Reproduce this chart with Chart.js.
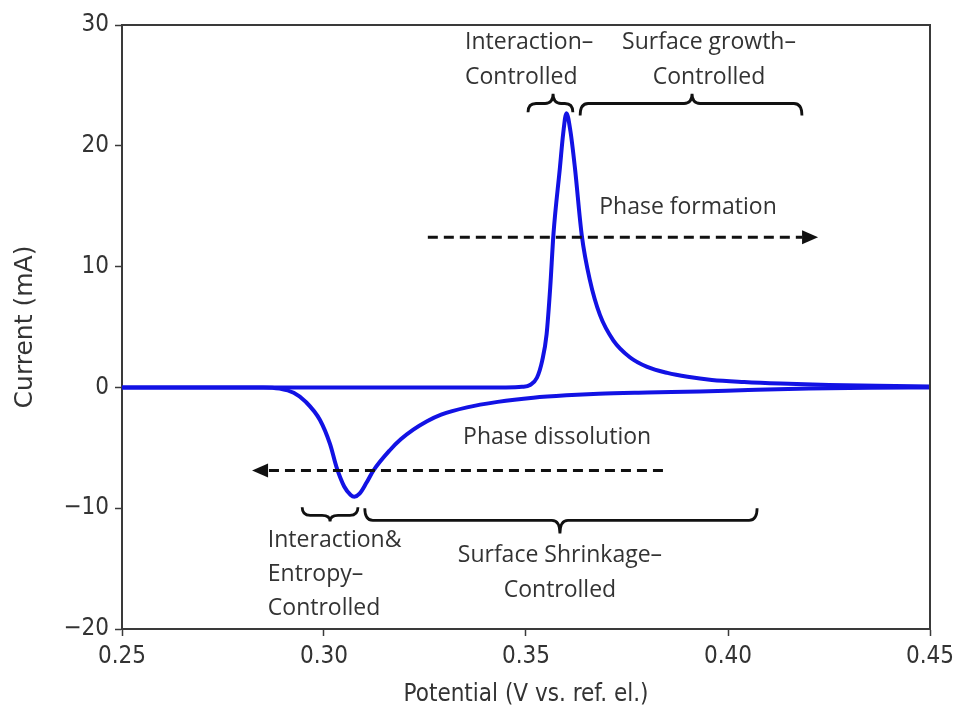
<!DOCTYPE html>
<html>
<head>
<meta charset="utf-8">
<script src="https://cdn.jsdelivr.net/npm/chart.js@4.4.0/dist/chart.umd.min.js"></script>
<style>
  html, body { margin: 0; padding: 0; background: #fff; }
  #wrap { width: 961px; height: 715px; position: relative; }
</style>
</head>
<body>
<div id="wrap"><canvas id="cv"></canvas></div>
<script>
// forward sweep (phase formation peak)
const fwdPotential = [0.25, 0.30, 0.345, 0.349, 0.351, 0.3527, 0.354, 0.3551, 0.356, 0.3568, 0.3584, 0.3592, 0.3600, 0.3610, 0.3621, 0.3638, 0.3658, 0.3683, 0.3716, 0.3757, 0.380, 0.385, 0.390, 0.396, 0.404, 0.413, 0.425, 0.437, 0.45];
const fwdCurrent   = [0, 0, 0, 0.05, 0.2, 0.8, 2.2, 4.4, 8.3, 12.7, 18.2, 21.0, 22.7, 21.2, 18.2, 12.6, 8.9, 6.0, 3.9, 2.5, 1.7, 1.2, 0.88, 0.62, 0.45, 0.32, 0.2, 0.13, 0.08];
// reverse sweep (phase dissolution peak)
const revPotential = [0.25, 0.285, 0.289, 0.2925, 0.2955, 0.2990, 0.3015, 0.3031, 0.3050, 0.3066, 0.3075, 0.3088, 0.3105, 0.3122, 0.3163, 0.319, 0.3221, 0.3255, 0.329, 0.3354, 0.343, 0.3518, 0.360, 0.368, 0.380, 0.393, 0.405, 0.42, 0.435, 0.45];
const revCurrent   = [0, 0, -0.1, -0.45, -1.2, -2.7, -4.7, -6.6, -8.2, -8.9, -9.05, -8.8, -7.9, -6.9, -5.2, -4.3, -3.5, -2.8, -2.25, -1.65, -1.2, -0.85, -0.65, -0.52, -0.42, -0.33, -0.22, -0.1, -0.03, 0];

const xTicks = [0.25, 0.30, 0.35, 0.40, 0.45];
const yTicks = [-20, -10, 0, 10, 20, 30];

const xTitle = 'Potential (V vs. ref. el.)';
const yTitle = 'Current (mA)';

// annotation texts, in data units
const notes = [
  { lines: ['Interaction\u2013', 'Controlled'], x: 0.3349, y: [28.56, 25.66], align: 'left' },
  { lines: ['Surface growth\u2013', 'Controlled'], x: 0.3953, y: [28.56, 25.66], align: 'center' },
  { lines: ['Phase formation'], x: 0.3901, y: [14.9], align: 'center' },
  { lines: ['Phase dissolution'], x: 0.3577, y: [-4.14], align: 'center' },
  { lines: ['Interaction&', 'Entropy\u2013', 'Controlled'], x: 0.2861, y: [-12.67, -15.48, -18.3], align: 'left' },
  { lines: ['Surface Shrinkage\u2013', 'Controlled'], x: 0.3584, y: [-13.9, -16.8], align: 'center' }
];
const arrows = [
  { from: 0.3257, to: 0.4223, y: 12.42 },
  { from: 0.3839, to: 0.2822, y: -6.87 }
];
const braces = [
  { x1: 0.3505, x2: 0.3616, tip: 0.3567, y0: 22.77, ym: 23.5, yt: 24.3 },
  { x1: 0.3634, x2: 0.4183, tip: 0.3911, y0: 22.5, ym: 23.5, yt: 24.3 },
  { x1: 0.2946, x2: 0.3084, tip: 0.3015, y0: -9.93, ym: -10.6, yt: -11.1 },
  { x1: 0.3101, x2: 0.4072, tip: 0.3584, y0: -10.0, ym: -11.0, yt: -12.1 }
];

const axisColor = '#3a3a3a';
const textColor = '#333';
const curveColor = 'rgb(18,18,228)';
const tickFont = { family: "'DejaVu Sans Condensed', 'DejaVu Sans'", size: 24 };

function drawBrace(ctx, x1, x2, xt, y0, ym, yt) {
  const r = 8;
  ctx.beginPath();
  ctx.moveTo(x1, y0);
  ctx.quadraticCurveTo(x1, ym, x1 + r, ym);
  ctx.lineTo(xt - r, ym);
  ctx.quadraticCurveTo(xt, ym, xt, yt);
  ctx.quadraticCurveTo(xt, ym, xt + r, ym);
  ctx.lineTo(x2 - r, ym);
  ctx.quadraticCurveTo(x2, ym, x2, y0);
  ctx.stroke();
}

function drawArrow(ctx, x1, x2, yy) {
  const dir = Math.sign(x2 - x1);
  const head = 16;
  ctx.setLineDash([10, 6]);
  ctx.beginPath();
  ctx.moveTo(x1, yy);
  ctx.lineTo(x2 - dir * head, yy);
  ctx.stroke();
  ctx.setLineDash([]);
  ctx.beginPath();
  ctx.moveTo(x2, yy);
  ctx.lineTo(x2 - dir * head, yy - 7);
  ctx.lineTo(x2 - dir * head, yy + 7);
  ctx.closePath();
  ctx.fill();
}

const annotate = {
  id: 'annotate',
  afterDatasetsDraw(chart) {
    const { ctx, chartArea: a, scales: { x, y } } = chart;
    ctx.save();
    // top and right spines
    ctx.strokeStyle = axisColor;
    ctx.lineWidth = 2;
    ctx.beginPath();
    ctx.moveTo(a.left, a.top);
    ctx.lineTo(a.right, a.top);
    ctx.lineTo(a.right, a.bottom);
    ctx.stroke();

    ctx.strokeStyle = '#111';
    ctx.fillStyle = '#111';
    ctx.lineWidth = 3;
    arrows.forEach(ar => drawArrow(ctx, x.getPixelForValue(ar.from), x.getPixelForValue(ar.to), y.getPixelForValue(ar.y)));

    ctx.lineWidth = 2.8;
    braces.forEach(b => drawBrace(ctx,
      x.getPixelForValue(b.x1), x.getPixelForValue(b.x2), x.getPixelForValue(b.tip),
      y.getPixelForValue(b.y0), y.getPixelForValue(b.ym), y.getPixelForValue(b.yt)));

    ctx.fillStyle = textColor;
    ctx.font = "23px 'Open Sans'";
    ctx.textBaseline = 'middle';
    notes.forEach(n => {
      ctx.textAlign = n.align;
      n.lines.forEach((t, i) => ctx.fillText(t, x.getPixelForValue(n.x), y.getPixelForValue(n.y[i])));
    });
    ctx.restore();
  }
};

const toPts = (xs, ys) => xs.map((v, i) => ({ x: v, y: ys[i] }));

new Chart(document.getElementById('cv'), {
  type: 'line',
  data: {
    datasets: [
      { data: toPts(fwdPotential, fwdCurrent), borderColor: curveColor, borderWidth: 4, pointRadius: 0, cubicInterpolationMode: 'monotone', fill: false },
      { data: toPts(revPotential, revCurrent), borderColor: curveColor, borderWidth: 4, pointRadius: 0, cubicInterpolationMode: 'monotone', fill: false }
    ]
  },
  options: {
    responsive: true,
    maintainAspectRatio: false,
    animation: false,
    events: [],
    layout: { padding: { top: 25, right: 31, left: 0, bottom: 0 } },
    plugins: { legend: { display: false }, tooltip: { enabled: false } },
    scales: {
      x: {
        type: 'linear',
        min: 0.25, max: 0.45,
        afterBuildTicks: s => { s.ticks = xTicks.map(v => ({ value: v })); },
        afterFit: s => { s.height = 86; },
        ticks: { font: tickFont, color: textColor, padding: 6, maxRotation: 0, callback: v => v.toFixed(2) },
        grid: { display: true, drawOnChartArea: false, tickLength: 7, color: axisColor, tickWidth: 1.5 },
        border: { display: true, color: axisColor, width: 2 },
        title: { display: true, text: xTitle, color: textColor, font: { family: "'DejaVu Sans Condensed', 'DejaVu Sans'", size: 24 }, padding: { top: 0, bottom: 6 } }
      },
      y: {
        min: -20, max: 30,
        afterBuildTicks: s => { s.ticks = yTicks.map(v => ({ value: v })); },
        afterFit: s => { s.width = 122; },
        ticks: { font: tickFont, color: textColor, padding: 6, callback: v => (v < 0 ? '\u2212' + Math.abs(v) : String(v)) },
        grid: { display: true, drawOnChartArea: false, tickLength: 7, color: axisColor, tickWidth: 1.5 },
        border: { display: true, color: axisColor, width: 2 },
        title: { display: true, text: yTitle, color: textColor, font: { family: "'DejaVu Sans'", size: 25 }, padding: { top: 10, bottom: 0 } }
      }
    }
  },
  plugins: [annotate]
});
</script>
</body>
</html>
